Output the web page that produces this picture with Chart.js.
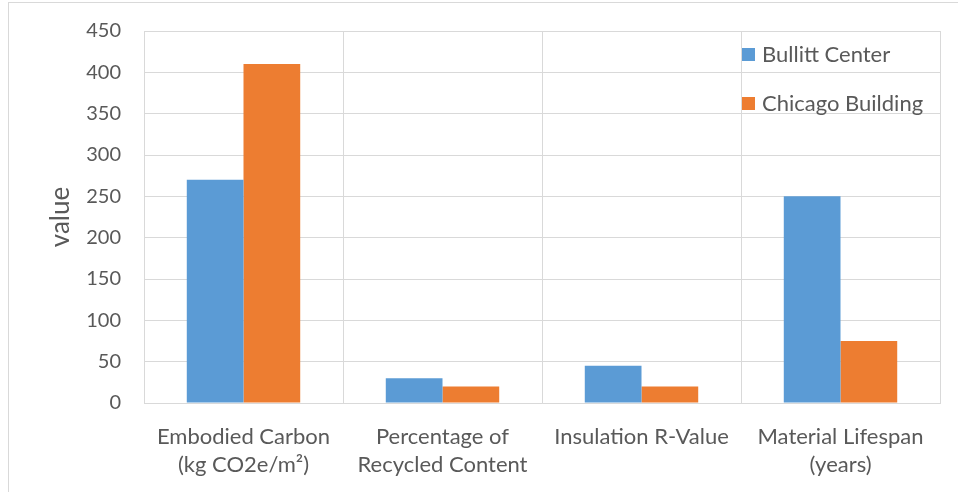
<!DOCTYPE html>
<html>
<head>
<meta charset="utf-8">
<script src="https://cdn.jsdelivr.net/npm/chart.js@4"></script>
<style>
  html, body { margin: 0; padding: 0; background: #fff; }
  #wrap { position: relative; width: 958px; height: 492px; overflow: hidden; }
  #frame { position: absolute; left: 8px; top: 2px; width: 960px; height: 500px; border: 1px solid #d9d9d9; box-sizing: border-box; }
  #chart { position: absolute; left: 0; top: 0; }
</style>
</head>
<body>
<div id="wrap">
  <div id="frame"></div>
  <canvas id="chart" width="958" height="492"></canvas>
</div>
<script>
// Material comparison: Bullitt Center vs. a conventional Chicago building
const categories = [
  ['Embodied Carbon', '(kg CO2e/m²)'],
  ['Percentage of', 'Recycled Content'],
  ['Insulation R-Value'],
  ['Material Lifespan', '(years)']
];
const seriesNames = ['Bullitt Center', 'Chicago Building'];
const bullittValues = [270, 30, 45, 250];
const chicagoValues = [410, 20, 20, 75];
const yTicks = { min: 0, max: 450, step: 50 };

const TEXT = '#595959';
const GRID = '#d9d9d9';
const FONT = 'Lato, "Open Sans", sans-serif';
const COLORS = ['#5B9BD5', '#ED7D31'];

// Legend drawn inside the plot area, top-right, over the grid
const insideLegend = {
  id: 'insideLegend',
  afterDatasetsDraw(chart) {
    const ctx = chart.ctx;
    const x0 = 742, rows = [54, 103];
    ctx.save();
    ctx.font = '22px ' + FONT;
    ctx.textBaseline = 'middle';
    ctx.textAlign = 'left';
    chart.data.datasets.forEach((ds, i) => {
      ctx.fillStyle = ds.backgroundColor;
      ctx.fillRect(x0, rows[i] - 6, 13, 13);
      ctx.fillStyle = TEXT;
      ctx.fillText(ds.label, x0 + 20, rows[i] + 1);
    });
    ctx.restore();
  }
};

new Chart(document.getElementById('chart'), {
  type: 'bar',
  data: {
    labels: categories,
    datasets: [
      { label: seriesNames[0], data: bullittValues, backgroundColor: COLORS[0] },
      { label: seriesNames[1], data: chicagoValues, backgroundColor: COLORS[1] }
    ]
  },
  options: {
    responsive: false,
    animation: false,
    layout: { padding: { top: 31, right: 18, left: 0, bottom: 0 } },
    datasets: { bar: { categoryPercentage: 0.57, barPercentage: 1, borderWidth: 0 } },
    plugins: { legend: { display: false }, tooltip: { enabled: false } },
    scales: {
      x: {
        grid: { color: GRID, drawTicks: false, offset: true },
        border: { color: GRID },
        ticks: { color: TEXT, font: { family: FONT, size: 22, lineHeight: 1.28 }, padding: 20, maxRotation: 0 },
        afterFit: s => { s.height = 89; s.paddingLeft = 0; s.paddingRight = 0; }
      },
      y: {
        min: yTicks.min,
        max: yTicks.max,
        grid: { color: GRID, drawTicks: false },
        border: { color: GRID },
        ticks: { stepSize: yTicks.step, color: TEXT, font: { family: FONT, size: 20 }, padding: 23 },
        title: { display: true, text: 'value', color: TEXT, font: { family: FONT, size: 26 }, padding: { top: 45, bottom: 0 } },
        afterFit: s => { s.width = 144; s.paddingTop = 0; s.paddingBottom = 0; }
      }
    }
  },
  plugins: [insideLegend]
});
</script>
</body>
</html>
